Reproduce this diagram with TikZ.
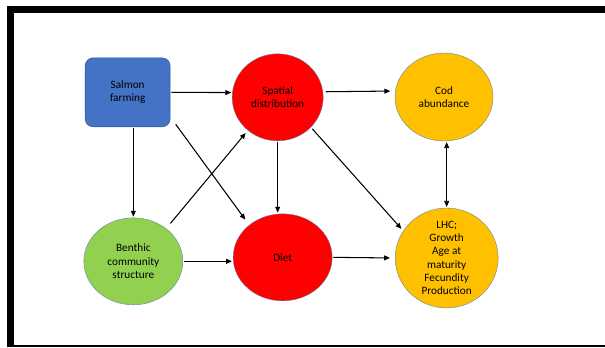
\documentclass[tikz,border=0pt]{standalone}
\usepackage{fontspec}
\setmainfont{Carlito}
\usepackage{xcolor}
\usepackage{tikz}
\usetikzlibrary{arrows.meta,shapes.geometric}
\definecolor{colorFarm}{HTML}{4472C4}
\definecolor{colorFarmEdge}{HTML}{2F528F}
\definecolor{colorEdge}{HTML}{5B7FA8}
\colorlet{colorHab}{red}
\definecolor{colorBen}{HTML}{92D050}
\definecolor{colorCod}{HTML}{FFC000}
\tikzset{
   every path/.style={>={Triangle[length=5pt,width=4.2pt]}},
   farm/.style={rectangle,rounded corners=0.24cm,fill=colorFarm,draw=colorFarmEdge,line width=0.4pt,
      minimum width=2.55cm,minimum height=2.07cm,inner sep=0pt,align=center},
   blob/.style={ellipse,draw=colorEdge,line width=0.3pt,inner sep=0pt,align=center},
   lk/.style={->,line width=0.9pt,shorten >=0.3mm,shorten <=0.3mm},
   tlk/.style={lk,line width=0.6pt},
   frame/.style={line width=0.21cm},
}

\begin{document}
\begin{tikzpicture}[
    every node/.style={font=\fontsize{9.6}{11.4}\selectfont}
]
\useasboundingbox (0,0) rectangle (18.15,10.41);

% =========================================================
% frame
% =========================================================

\draw[frame] (18.15,10.12) -- (0.32,10.12) -- (0.32,0);
\draw[line width=0.06cm] (0.40,0.04) -- (18.15,0.04);


% =========================================================
% top row
% =========================================================

\node[farm] (salmon) at (3.83,7.64) {Salmon\\farming};

\node[blob,fill=colorHab,minimum width=2.73cm,minimum height=2.61cm]
   (spatial) at (8.33,7.49) {Spatial\\distribution};

\node[blob,fill=colorCod,minimum width=2.94cm,minimum height=2.64cm]
   (cod) at (13.32,7.50) {Cod\\abundance};


% =========================================================
% bottom row
% =========================================================

\node[blob,fill=colorBen,minimum width=2.97cm,minimum height=2.61cm]
   (benthic) at (4.00,2.57) {Benthic\\community\\structure};

\node[blob,fill=colorHab,minimum width=2.97cm,minimum height=2.61cm]
   (diet) at (8.48,2.69) {Diet};

\node[blob,fill=colorCod,minimum width=3.09cm,minimum height=3.00cm,
   label={[align=center]center:LHC;\\Growth\\Age at\\maturity\\Fecundity\\Production}]
   (lhc) at (13.40,2.67) {};


% =========================================================
% arrows
% =========================================================

\draw[lk] (salmon.east) -- (spatial.174);
\draw[lk,shorten <=0.9mm,shorten >=1.5mm] (spatial.7) -- (cod.173);
\draw[tlk] (salmon.south -| benthic.north) -- (benthic.north);
\draw[lk,shorten <=2.7mm,shorten >=2mm] (salmon.-30) -- (diet.136);
\draw[lk,shorten <=2mm,shorten >=1mm] (benthic.45) -- (spatial.228);
\draw[lk] (spatial.south) -- (spatial.south |- diet.north);
\draw[lk,shorten <=0.6mm,shorten >=0.8mm] (spatial.-42) -- (lhc.148);
\draw[tlk,<->] (lhc.north |- cod.south) -- (lhc.north);
\draw[lk] (benthic.east) -- (benthic.east -| diet.west);
\draw[lk,shorten >=1.5mm] (diet.east) -- (lhc.west);

\end{tikzpicture}
\end{document}
